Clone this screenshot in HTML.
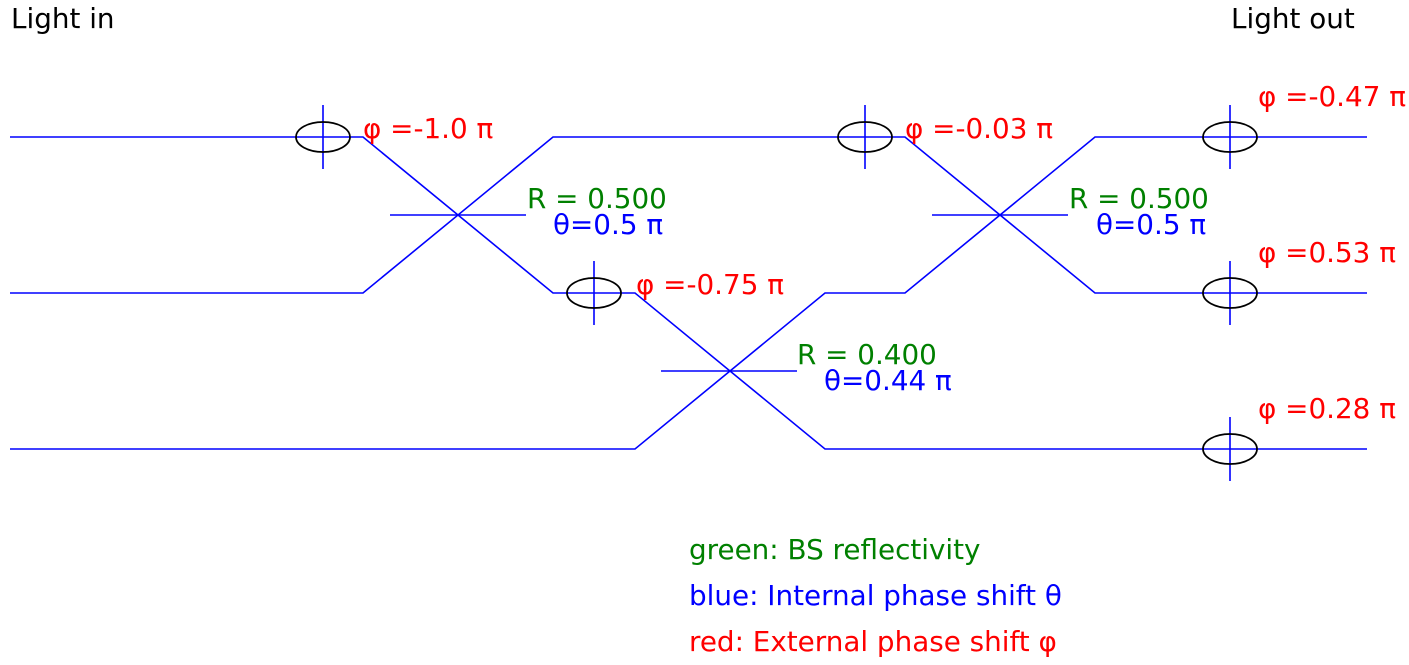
<!DOCTYPE html>
<html><head><meta charset="utf-8"><style>
html,body{margin:0;padding:0;background:#fff;}
svg{display:block;}
text{font-family:"DejaVu Sans","Liberation Sans",sans-serif;font-size:27.8px;}
</style></head><body>
<svg width="1409" height="665" viewBox="0 0 1409 665" xmlns="http://www.w3.org/2000/svg">
<g stroke="#0000ff" stroke-width="1.6" fill="none">
<polyline points="10,137 296,137"/>
<polyline points="350,137 363,137 553,293 567,293"/>
<polyline points="10,293 363,293 553,137 838,137"/>
<polyline points="892,137 905,137 1095,293 1203,293"/>
<polyline points="621,293 635,293 825,449 1203,449"/>
<polyline points="10,449 635,449 825,293 905,293 1095,137 1203,137"/>
<line x1="1257" y1="137" x2="1367" y2="137"/>
<line x1="1257" y1="293" x2="1367" y2="293"/>
<line x1="1257" y1="449" x2="1367" y2="449"/>
<line x1="390" y1="215" x2="526" y2="215"/>
<line x1="932" y1="215" x2="1068" y2="215"/>
<line x1="661" y1="371" x2="797" y2="371"/>
<line x1="296" y1="137" x2="350" y2="137"/><line x1="323" y1="105" x2="323" y2="169"/>
<line x1="838" y1="137" x2="892" y2="137"/><line x1="865" y1="105" x2="865" y2="169"/>
<line x1="567" y1="293" x2="621" y2="293"/><line x1="594" y1="261" x2="594" y2="325"/>
<line x1="1203" y1="137" x2="1257" y2="137"/><line x1="1230" y1="105" x2="1230" y2="169"/>
<line x1="1203" y1="293" x2="1257" y2="293"/><line x1="1230" y1="261" x2="1230" y2="325"/>
<line x1="1203" y1="449" x2="1257" y2="449"/><line x1="1230" y1="417" x2="1230" y2="481"/>
</g>
<g stroke="#000" stroke-width="1.8" fill="none">
<ellipse cx="323" cy="137" rx="27" ry="15"/>
<ellipse cx="865" cy="137" rx="27" ry="15"/>
<ellipse cx="594" cy="293" rx="27" ry="15"/>
<ellipse cx="1230" cy="137" rx="27" ry="15"/>
<ellipse cx="1230" cy="293" rx="27" ry="15"/>
<ellipse cx="1230" cy="449" rx="27" ry="15"/>
</g>
<text x="11" y="28" fill="#000">Light in</text>
<text x="1231" y="28" fill="#000">Light out</text>
<g fill="#ff0000">
<text x="363" y="138">φ =-1.0 π</text>
<text x="905" y="138">φ =-0.03 π</text>
<text x="636" y="294">φ =-0.75 π</text>
<text x="1258" y="106">φ =-0.47 π</text>
<text x="1258" y="262">φ =0.53 π</text>
<text x="1258" y="418">φ =0.28 π</text>
</g>
<g fill="#008000">
<text x="527" y="208">R = 0.500</text>
<text x="1069" y="208">R = 0.500</text>
<text x="797" y="364">R = 0.400</text>
</g>
<g fill="#0000ff">
<text x="553" y="234">θ=0.5 π</text>
<text x="1096" y="234">θ=0.5 π</text>
<text x="824" y="390">θ=0.44 π</text>
</g>
<text x="689" y="559" fill="#008000">green: BS reflectivity</text>
<text x="689" y="605" fill="#0000ff">blue: Internal phase shift θ</text>
<text x="689" y="651" fill="#ff0000">red: External phase shift φ</text>
</svg>
</body></html>
